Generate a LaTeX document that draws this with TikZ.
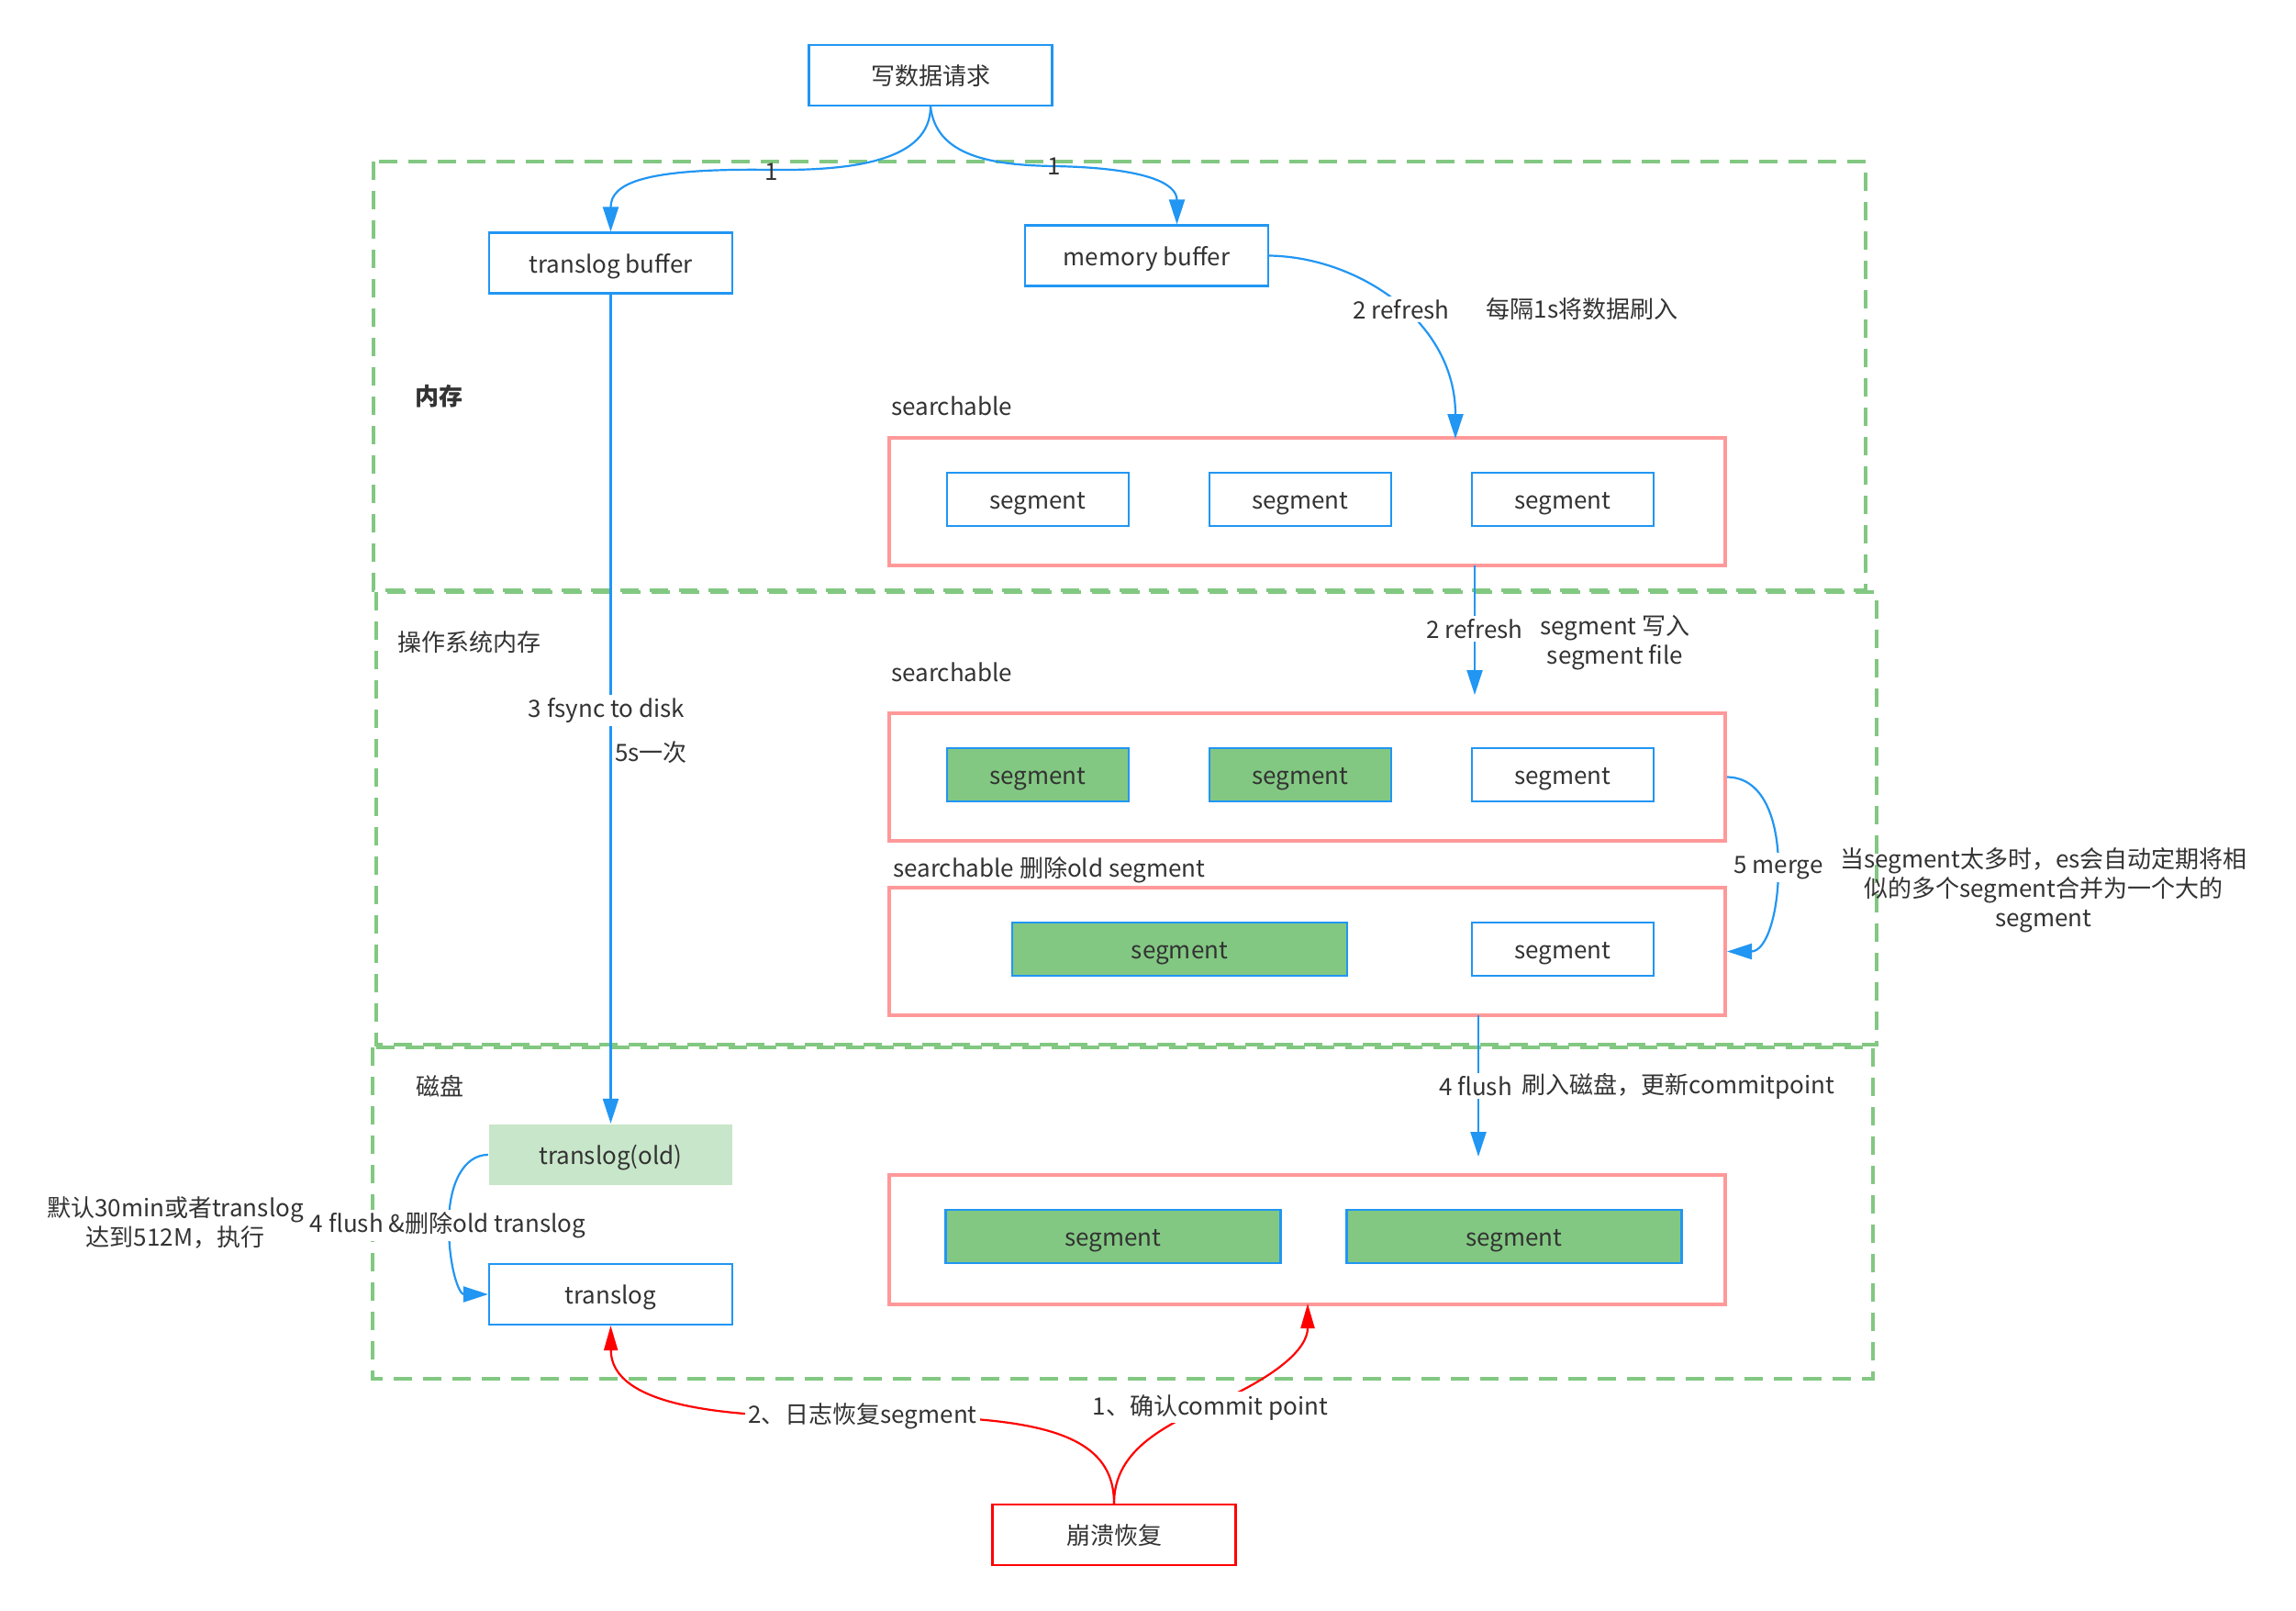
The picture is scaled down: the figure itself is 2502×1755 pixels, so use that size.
\documentclass[tikz,border=0pt]{standalone}
\usepackage{fontspec}
\setmainfont{Noto Sans CJK SC}
\usetikzlibrary{arrows.meta,calc}
\definecolor{cblue}{HTML}{2196F3}
\definecolor{cpink}{HTML}{FF9999}
\definecolor{cgreen}{HTML}{82C882}
\definecolor{clight}{HTML}{C8E6C9}
\definecolor{ctext}{HTML}{333333}
\definecolor{cred}{HTML}{FF0000}
\newcommand\myfs{\fontsize{26}{32}\selectfont}
\begin{document}
\begin{tikzpicture}[x=1pt,y=-1pt,
 every node/.style={text=ctext,font=\myfs},
 bbox/.style={draw=cblue,line width=2.2pt,fill=white,minimum width=265pt,minimum height=66pt,inner sep=0pt,text height=21pt,text depth=0pt},
 seg/.style={bbox,minimum width=198pt,minimum height=58pt},
 gseg/.style={seg,fill=cgreen},
 pbox/.style={draw=cpink,line width=4pt,minimum width=911pt,minimum height=139pt,inner sep=0pt},
 zone/.style={draw=cgreen,line width=4pt,dash pattern=on 20pt off 12pt},
 conn/.style={draw=cblue,line width=2.2pt,-{Triangle[length=27pt,width=17pt]}},
 rconn/.style={draw=cred,line width=2.2pt,-{Triangle[length=27pt,width=15pt]}},
 lbl/.style={fill=white,inner sep=3pt},
 txt/.style={inner sep=0pt},
]
\useasboundingbox (0,0) rectangle (2502,1755);
\fill[white] (0,0) rectangle (2502,1755);

% zones
\draw[zone] (407,176) rectangle (2033,643);
\draw[zone] (410,645) rectangle (2045,1138);
\draw[zone] (406,1141) rectangle (2041,1502);

% top boxes
\node[bbox] (req) at (1014,82) {写数据请求};
\node[bbox] (tb) at (665.5,286.5) {translog buffer};
\node[bbox] (mb) at (1249.5,278.5) {memory buffer};

% pink containers
\node[pbox] (p1) at (1424.5,546.5) {};
\node[pbox] (p2) at (1424.5,846.5) {};
\node[pbox] (p3) at (1424.5,1036.5) {};
\node[pbox,minimum height=141pt] (p4) at (1424.5,1350.5) {};

% segments
\node[seg] (s11) at (1131,544) {segment};
\node[seg] (s12) at (1417,544) {segment};
\node[seg] (s13) at (1703,544) {segment};
\node[gseg] (s21) at (1131,844) {segment};
\node[gseg] (s22) at (1417,844) {segment};
\node[seg] (s23) at (1703,844) {segment};
\node[gseg,minimum width=365pt] (s31) at (1285.5,1034) {segment};
\node[seg] (s32) at (1703,1034) {segment};
\node[gseg,minimum width=365pt] (s41) at (1213,1347) {segment};
\node[gseg,minimum width=365pt] (s42) at (1650,1347) {segment};

% translog boxes
\node[bbox,draw=none,fill=clight] (old) at (665.5,1258) {translog(old)};
\node[bbox] (tl) at (665.5,1410) {translog};
\node[bbox,draw=cred] (crash) at (1214,1672) {崩溃恢复};

% coordinates
\coordinate (mtop) at ($(mb.north)+(33,0)$);
\coordinate (r1end) at (1586,478);
\coordinate (r2s) at (1607,616);
\coordinate (r2e) at (1607,757);
\coordinate (f4s) at (1611,1106);
\coordinate (f4e) at (1611,1260);
\coordinate (rend) at (1425,1420);

% connectors
\draw[conn] (req.south) .. controls (1014,175) and (930,186) .. (841,185) .. controls (700,183) and (665.5,200) .. (tb.north);
\draw[conn] (req.south) .. controls (1020,170) and (1080,180) .. (1149,181) .. controls (1250,183) and (1282.5,200) .. (mtop);
\draw[conn] (mb.east) .. controls (1480,280) and (1586,350) .. (r1end);
\draw[conn] (r2s) -- (r2e);
\draw[conn] (p2.east) .. controls (1925,847) and (1938,900) .. (1938,945) .. controls (1938,995) and (1925,1036.5) .. (p3.east);
\draw[conn] (tb.south) -- (old.north);
\draw[conn] (f4s) -- (f4e);
\draw[conn] (old.west) .. controls (505,1258) and (489,1290) .. (489,1334) .. controls (489,1380) and (500,1410) .. (tl.west);
\draw[rconn] (crash.north) .. controls (1214,1560) and (1130,1541) .. (940,1543) .. controls (780,1546) and (666,1530) .. (tl.south);
\draw[rconn] (crash.north) .. controls (1214,1590) and (1250,1560) .. (1319,1531) .. controls (1390,1500) and (1425,1470) .. (rend);

% labels on connectors
\node[txt] (l1a) at (841,187) {1};
\node[txt] (l1b) at (1149,181) {1};
\node[lbl] (lref1) at (1527,337) {2 refresh};
\node[lbl] (lref2) at (1607,685) {2 refresh};
\node[lbl] (lmerge) at (1938,945) {5 merge};
\node[lbl] (lfsync) at (661,774) {3 fsync to disk};
\node[lbl] (lflush) at (1608,1183) {4 flush};
\node[lbl] (lflusht) at (488,1335) {4 flush \&删除old translog};
\node[lbl] (lrec2) at (940,1543) {2、日志恢复segment};
\node[lbl] (lrec1) at (1319,1533) {1、确认commit point};

% free texts
\node[txt,font=\myfs\bfseries] (tmem) at (478,432) {内存};
\node[txt] (tos) at (511,700) {操作系统内存};
\node[txt] (tdisk) at (479,1183) {磁盘};
\node[txt,anchor=west] (ts1) at (971,442) {searchable};
\node[txt,anchor=west] (ts2) at (971,732) {searchable};
\node[txt,anchor=west] (ts3) at (973,948) {searchable 删除old segment};
\node[txt] (t1s) at (1724,337) {每隔1s将数据刷入};
\node[txt,align=center] (tsegw) at (1760,700) {segment 写入\\segment file};
\node[txt,anchor=west] (t5s) at (670,820) {5s一次};
\node[txt,align=center] (tmerge) at (2227,970) {当segment太多时，es会自动定期将相\\似的多个segment合并为一个大的\\segment};
\node[txt] (tflushd) at (1829,1183) {刷入磁盘，更新commitpoint};
\node[txt,align=center] (tdef) at (191,1332) {默认30min或者translog\\达到512M，执行};
\end{tikzpicture}
\end{document}
